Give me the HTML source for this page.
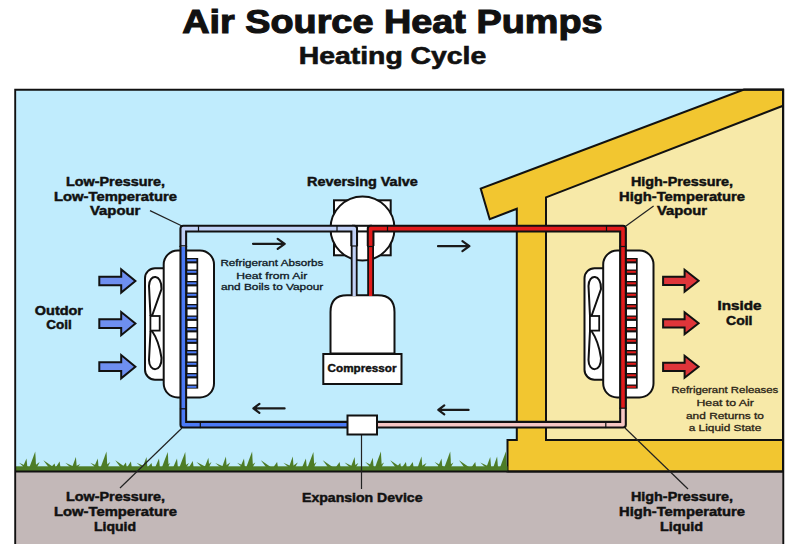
<!DOCTYPE html>
<html><head><meta charset="utf-8"><style>html,body{margin:0;padding:0;background:#fff;}svg{display:block;}</style></head>
<body><svg width="800" height="544" viewBox="0 0 800 544">
<rect x="0" y="0" width="800" height="544" fill="#fff"/>
<rect x="15" y="89.5" width="768" height="382" fill="#c0ecfd"/>
<rect x="15" y="471.6" width="768" height="80" fill="#c3b8b8"/>
<polygon points="744,89.5 783,89.5 783,471.6 507.5,471.6 507.5,440 516.8,440 516.8,208.8 489.7,219.2 480.7,188.6" fill="#f2c630" stroke="#111" stroke-width="2" stroke-linejoin="miter"/>
<polygon points="546,197.4 783,105.8 783,440 546,440" fill="#f7e9a8" stroke="#111" stroke-width="2"/>
<rect x="15" y="466.3" width="492.5" height="5.5" fill="#4d7c27"/><polygon points="24.40,467.5 19.00,462.75 29.60,467.5" fill="#4d7c27"/><polygon points="22.60,467.5 26.50,458.40 27.40,467.5" fill="#4d7c27"/><polygon points="29.35,467.5 35.25,451.50 36.15,467.5" fill="#4d7c27"/><polygon points="32.30,467.5 39.60,462.10 36.90,467.5" fill="#4d7c27"/><polygon points="48.80,467.5 43.40,460.25 54.00,467.5" fill="#4d7c27"/><polygon points="50.70,467.5 54.60,463.40 55.50,467.5" fill="#4d7c27"/><polygon points="55.70,467.5 59.60,461.50 60.50,467.5" fill="#4d7c27"/><polygon points="70.65,467.5 65.25,462.75 75.85,467.5" fill="#4d7c27"/><polygon points="72.00,467.5 75.90,457.10 76.80,467.5" fill="#4d7c27"/><polygon points="72.95,467.5 80.25,464.00 77.55,467.5" fill="#4d7c27"/><polygon points="95.65,467.5 90.25,462.75 100.85,467.5" fill="#4d7c27"/><polygon points="93.85,467.5 97.75,458.40 98.65,467.5" fill="#4d7c27"/><polygon points="100.60,467.5 106.50,451.50 107.40,467.5" fill="#4d7c27"/><polygon points="102.95,467.5 110.25,462.00 107.55,467.5" fill="#4d7c27"/><polygon points="120.65,467.5 115.25,460.25 125.85,467.5" fill="#4d7c27"/><polygon points="122.00,467.5 125.90,462.50 126.80,467.5" fill="#4d7c27"/><polygon points="127.00,467.5 130.90,461.50 131.80,467.5" fill="#4d7c27"/><polygon points="141.90,467.5 136.50,462.75 147.10,467.5" fill="#4d7c27"/><polygon points="142.60,467.5 146.50,457.00 147.40,467.5" fill="#4d7c27"/><polygon points="147.60,467.5 151.50,463.00 152.40,467.5" fill="#4d7c27"/><polygon points="155.10,467.5 159.00,458.40 159.90,467.5" fill="#4d7c27"/><polygon points="161.85,467.5 167.75,452.10 168.65,467.5" fill="#4d7c27"/><polygon points="162.95,467.5 170.25,463.00 167.55,467.5" fill="#4d7c27"/><polygon points="173.10,467.5 177.00,458.40 177.90,467.5" fill="#4d7c27"/><polygon points="179.35,467.5 185.25,452.00 186.15,467.5" fill="#4d7c27"/><polygon points="181.70,467.5 189.00,463.00 186.30,467.5" fill="#4d7c27"/><polygon points="188.85,467.5 192.75,460.90 193.65,467.5" fill="#4d7c27"/><polygon points="201.90,467.5 196.50,462.00 207.10,467.5" fill="#4d7c27"/><polygon points="204.50,467.5 208.40,457.75 209.30,467.5" fill="#4d7c27"/><polygon points="204.20,467.5 211.50,462.00 208.80,467.5" fill="#4d7c27"/><polygon points="220.65,467.5 215.25,463.00 225.85,467.5" fill="#4d7c27"/><polygon points="222.00,467.5 225.90,456.50 226.80,467.5" fill="#4d7c27"/><polygon points="222.95,467.5 230.25,462.50 227.55,467.5" fill="#4d7c27"/><polygon points="242.50,467.5 237.10,462.75 247.70,467.5" fill="#4d7c27"/><polygon points="240.10,467.5 244.00,458.40 244.90,467.5" fill="#4d7c27"/><polygon points="246.20,467.5 252.10,451.50 253.00,467.5" fill="#4d7c27"/><polygon points="247.95,467.5 255.25,462.50 252.55,467.5" fill="#4d7c27"/><polygon points="266.30,467.5 260.90,460.25 271.50,467.5" fill="#4d7c27"/><polygon points="273.20,467.5 277.10,462.00 278.00,467.5" fill="#4d7c27"/><polygon points="288.80,467.5 283.40,462.75 294.00,467.5" fill="#4d7c27"/><polygon points="288.85,467.5 292.75,456.50 293.65,467.5" fill="#4d7c27"/><polygon points="290.45,467.5 297.75,462.50 295.05,467.5" fill="#4d7c27"/><polygon points="302.00,467.5 305.90,458.40 306.80,467.5" fill="#4d7c27"/><polygon points="307.50,467.5 313.40,452.10 314.30,467.5" fill="#4d7c27"/><polygon points="309.20,467.5 316.50,462.00 313.80,467.5" fill="#4d7c27"/><polygon points="328.15,467.5 322.75,460.25 333.35,467.5" fill="#4d7c27"/><polygon points="335.70,467.5 339.60,462.00 340.50,467.5" fill="#4d7c27"/><polygon points="350.00,467.5 344.60,462.50 355.20,467.5" fill="#4d7c27"/><polygon points="350.70,467.5 354.60,457.10 355.50,467.5" fill="#4d7c27"/><polygon points="351.10,467.5 358.40,463.00 355.70,467.5" fill="#4d7c27"/><polygon points="370.65,467.5 365.25,462.00 375.85,467.5" fill="#4d7c27"/><polygon points="368.85,467.5 372.75,457.75 373.65,467.5" fill="#4d7c27"/><polygon points="375.00,467.5 380.90,451.50 381.80,467.5" fill="#4d7c27"/><polygon points="376.70,467.5 384.00,462.50 381.30,467.5" fill="#4d7c27"/><polygon points="395.65,467.5 390.25,460.25 400.85,467.5" fill="#4d7c27"/><polygon points="396.35,467.5 400.25,463.00 401.15,467.5" fill="#4d7c27"/><polygon points="402.00,467.5 405.90,462.00 406.80,467.5" fill="#4d7c27"/><polygon points="408.85,467.5 412.75,462.00 413.65,467.5" fill="#4d7c27"/><polygon points="417.60,467.5 421.50,456.50 422.40,467.5" fill="#4d7c27"/><polygon points="419.20,467.5 426.50,463.00 423.80,467.5" fill="#4d7c27"/><polygon points="440.00,467.5 434.60,462.00 445.20,467.5" fill="#4d7c27"/><polygon points="437.60,467.5 441.50,458.40 442.40,467.5" fill="#4d7c27"/><polygon points="444.35,467.5 450.25,451.50 451.15,467.5" fill="#4d7c27"/><polygon points="446.10,467.5 453.40,462.50 450.70,467.5" fill="#4d7c27"/><polygon points="464.40,467.5 459.00,460.25 469.60,467.5" fill="#4d7c27"/><polygon points="471.35,467.5 475.25,462.00 476.15,467.5" fill="#4d7c27"/><polygon points="485.65,467.5 480.25,462.50 490.85,467.5" fill="#4d7c27"/><polygon points="486.35,467.5 490.25,457.10 491.15,467.5" fill="#4d7c27"/><polygon points="493.20,467.5 497.10,456.50 498.00,467.5" fill="#4d7c27"/><polygon points="500.00,467.5 505.90,451.50 506.80,467.5" fill="#4d7c27"/>
<line x1="15" y1="471.6" x2="507.5" y2="471.6" stroke="#111" stroke-width="2"/>
<line x1="507.5" y1="471.6" x2="783" y2="471.6" stroke="#111" stroke-width="2"/>
<path d="M15.2,551 V89.7 H783.3 V551" fill="none" stroke="#111" stroke-width="1.9"/>
<g stroke="#222" stroke-width="1.2" fill="none"><line x1="150" y1="210.6" x2="182" y2="226"/><line x1="653.6" y1="206" x2="626" y2="226"/><line x1="182" y1="428" x2="120" y2="488"/><line x1="625" y1="428" x2="688" y2="489"/><line x1="361.5" y1="434" x2="361.5" y2="489"/></g>
<rect x="145" y="268.2" width="30" height="111.5" rx="10" fill="#fff" stroke="#111" stroke-width="2"/><path d="M150.5,316 L149,286 C149,273.5 162,273.5 161.5,289 L152,316 M150.5,331 L149,360 C149,372.5 162,372.5 161.5,358 Q159,341 152,331" fill="none" stroke="#111" stroke-width="2"/><rect x="150.4" y="316" width="9.3" height="14.6" fill="#fff" stroke="#111" stroke-width="1.8"/><rect x="163.7" y="250.5" width="50.3" height="147" rx="14" fill="#fff" stroke="#111" stroke-width="2"/><rect x="186" y="258" width="12.2" height="130.6" fill="#111"/><rect x="184.6" y="259.30" width="11.8" height="2" fill="#4b7af5"/><rect x="187.5" y="263.40" width="9.0" height="6.1" fill="#fff"/><rect x="184.6" y="270.80" width="11.8" height="2" fill="#4b7af5"/><rect x="187.5" y="274.90" width="9.0" height="6.1" fill="#fff"/><rect x="184.6" y="282.30" width="11.8" height="2" fill="#4b7af5"/><rect x="187.5" y="286.40" width="9.0" height="6.1" fill="#fff"/><rect x="184.6" y="293.80" width="11.8" height="2" fill="#4b7af5"/><rect x="187.5" y="297.90" width="9.0" height="6.1" fill="#fff"/><rect x="184.6" y="305.30" width="11.8" height="2" fill="#4b7af5"/><rect x="187.5" y="309.40" width="9.0" height="6.1" fill="#fff"/><rect x="184.6" y="316.80" width="11.8" height="2" fill="#4b7af5"/><rect x="187.5" y="320.90" width="9.0" height="6.1" fill="#fff"/><rect x="184.6" y="328.30" width="11.8" height="2" fill="#4b7af5"/><rect x="187.5" y="332.40" width="9.0" height="6.1" fill="#fff"/><rect x="184.6" y="339.80" width="11.8" height="2" fill="#4b7af5"/><rect x="187.5" y="343.90" width="9.0" height="6.1" fill="#fff"/><rect x="184.6" y="351.30" width="11.8" height="2" fill="#4b7af5"/><rect x="187.5" y="355.40" width="9.0" height="6.1" fill="#fff"/><rect x="184.6" y="362.80" width="11.8" height="2" fill="#4b7af5"/><rect x="187.5" y="366.90" width="9.0" height="6.1" fill="#fff"/><rect x="184.6" y="374.30" width="11.8" height="2" fill="#4b7af5"/><rect x="187.5" y="378.40" width="9.0" height="6.1" fill="#fff"/><rect x="184.6" y="385.80" width="11.8" height="2" fill="#4b7af5"/>
<rect x="584.5" y="268.2" width="30" height="111.5" rx="10" fill="#fff" stroke="#111" stroke-width="2"/><path d="M590.0,316 L588.5,286 C588.5,273.5 601.5,273.5 601.0,289 L591.5,316 M590.0,331 L588.5,360 C588.5,372.5 601.5,372.5 601.0,358 Q598.5,341 591.5,331" fill="none" stroke="#111" stroke-width="2"/><rect x="589.9" y="316" width="9.3" height="14.6" fill="#fff" stroke="#111" stroke-width="1.8"/><rect x="603.2" y="250.5" width="50.3" height="147" rx="14" fill="#fff" stroke="#111" stroke-width="2"/><rect x="625.5" y="258" width="12.2" height="130.6" fill="#111"/><rect x="624.1" y="259.30" width="11.8" height="2" fill="#e31b1b"/><rect x="627.0" y="263.40" width="9.0" height="6.1" fill="#fff"/><rect x="624.1" y="270.80" width="11.8" height="2" fill="#e31b1b"/><rect x="627.0" y="274.90" width="9.0" height="6.1" fill="#fff"/><rect x="624.1" y="282.30" width="11.8" height="2" fill="#e31b1b"/><rect x="627.0" y="286.40" width="9.0" height="6.1" fill="#fff"/><rect x="624.1" y="293.80" width="11.8" height="2" fill="#e31b1b"/><rect x="627.0" y="297.90" width="9.0" height="6.1" fill="#fff"/><rect x="624.1" y="305.30" width="11.8" height="2" fill="#e31b1b"/><rect x="627.0" y="309.40" width="9.0" height="6.1" fill="#fff"/><rect x="624.1" y="316.80" width="11.8" height="2" fill="#e31b1b"/><rect x="627.0" y="320.90" width="9.0" height="6.1" fill="#fff"/><rect x="624.1" y="328.30" width="11.8" height="2" fill="#e31b1b"/><rect x="627.0" y="332.40" width="9.0" height="6.1" fill="#fff"/><rect x="624.1" y="339.80" width="11.8" height="2" fill="#e31b1b"/><rect x="627.0" y="343.90" width="9.0" height="6.1" fill="#fff"/><rect x="624.1" y="351.30" width="11.8" height="2" fill="#e31b1b"/><rect x="627.0" y="355.40" width="9.0" height="6.1" fill="#fff"/><rect x="624.1" y="362.80" width="11.8" height="2" fill="#e31b1b"/><rect x="627.0" y="366.90" width="9.0" height="6.1" fill="#fff"/><rect x="624.1" y="374.30" width="11.8" height="2" fill="#e31b1b"/><rect x="627.0" y="378.40" width="9.0" height="6.1" fill="#fff"/><rect x="624.1" y="385.80" width="11.8" height="2" fill="#e31b1b"/>
<rect x="334" y="200.3" width="56.7" height="55" fill="#fff" stroke="#111" stroke-width="2"/>
<circle cx="362.5" cy="228.5" r="32" fill="#fff" stroke="#111" stroke-width="2"/>
<path d="M330.5,353.5 V312 Q330.5,295.3 347,295.3 H378 Q394.5,295.3 394.5,312 V353.5 Z" fill="#fff" stroke="#111" stroke-width="2"/>
<rect x="323.3" y="354" width="78.2" height="30" fill="#fff" stroke="#111" stroke-width="2"/>
<path d="M352,228.6 H372" fill="none" stroke="#111" stroke-width="7.7" stroke-linejoin="round"/><path d="M352,228.6 H372" fill="none" stroke="#fff" stroke-width="3.6" stroke-linejoin="round"/>
<path d="M354.2,296 V228.6 H183.3 V247" fill="none" stroke="#111" stroke-width="6.8" stroke-linejoin="round"/><path d="M354.2,296 V228.6 H183.3 V247" fill="none" stroke="#c0d0f6" stroke-width="3.2" stroke-linejoin="round"/>
<path d="M183.3,246 V424.7 H348" fill="none" stroke="#111" stroke-width="7.7" stroke-linejoin="round"/><path d="M183.3,246 V424.7 H348" fill="none" stroke="#4b7af5" stroke-width="3.6" stroke-linejoin="round"/>
<path d="M370.6,296 V228.6 H623 V408.5" fill="none" stroke="#111" stroke-width="6.8" stroke-linejoin="round"/><path d="M370.6,296 V228.6 H623 V408.5" fill="none" stroke="#e31b1b" stroke-width="3.2" stroke-linejoin="round"/>
<path d="M370.6,246 V228.6 H623 V408.5" fill="none" stroke="#111" stroke-width="7.7" stroke-linejoin="round"/><path d="M370.6,246 V228.6 H623 V408.5" fill="none" stroke="#e31b1b" stroke-width="3.6" stroke-linejoin="round"/>
<path d="M354.2,246 V228.6 H183.3 V247" fill="none" stroke="#111" stroke-width="7.7" stroke-linejoin="round"/><path d="M354.2,246 V228.6 H183.3 V247" fill="none" stroke="#c0d0f6" stroke-width="3.6" stroke-linejoin="round"/>
<path d="M623,408 V424.7 H376" fill="none" stroke="#111" stroke-width="7.7" stroke-linejoin="round"/><path d="M623,408 V424.7 H376" fill="none" stroke="#f6c6c4" stroke-width="3.6" stroke-linejoin="round"/>
<rect x="197.9" y="225.2" width="1.2" height="6.8" fill="#111"/><rect x="336.4" y="225.2" width="1.2" height="6.8" fill="#111"/><rect x="386.9" y="225.2" width="1.2" height="6.8" fill="#111"/><rect x="605.9" y="225.2" width="1.2" height="6.8" fill="#111"/><rect x="179.9" y="245.20000000000002" width="6.8" height="1.2" fill="#111"/><rect x="350.8" y="245.4" width="6.8" height="1.2" fill="#111"/><rect x="367.20000000000005" y="245.9" width="6.8" height="1.2" fill="#111"/><rect x="619.6" y="245.9" width="6.8" height="1.2" fill="#111"/><rect x="179.9" y="408.2" width="6.8" height="1.2" fill="#111"/><rect x="199.70000000000002" y="421.3" width="1.2" height="6.8" fill="#111"/><rect x="619.6" y="407.59999999999997" width="6.8" height="1.2" fill="#111"/><rect x="605.1999999999999" y="421.3" width="1.2" height="6.8" fill="#111"/>
<rect x="347.5" y="415.5" width="29.5" height="19" fill="#fff" stroke="#111" stroke-width="2"/>
<path d="M253,243.8 H284.7 M277.7,238.8 L284.7,243.8 L277.7,248.8" fill="none" stroke="#1a1a1a" stroke-width="2.2" stroke-linecap="round" stroke-linejoin="round"/>
<path d="M438,246.2 H469.4 M462.4,241.2 L469.4,246.2 L462.4,251.2" fill="none" stroke="#1a1a1a" stroke-width="2.2" stroke-linecap="round" stroke-linejoin="round"/>
<path d="M284.6,408.4 H253.4 M259.4,403.9 L253.4,408.4 L259.4,412.9" fill="none" stroke="#1a1a1a" stroke-width="2.2" stroke-linecap="round" stroke-linejoin="round"/>
<path d="M468.6,409.9 H438.3 M444.3,405.4 L438.3,409.9 L444.3,414.4" fill="none" stroke="#1a1a1a" stroke-width="2.2" stroke-linecap="round" stroke-linejoin="round"/>
<polygon points="99.30,276.65 121.20,276.65 121.20,269.40 135.40,281.00 121.20,292.60 121.20,285.35 99.30,285.35" fill="#6e8ff0" stroke="#111" stroke-width="2" stroke-linejoin="miter" stroke-miterlimit="10"/>
<polygon points="99.30,319.25 121.20,319.25 121.20,312.00 135.40,323.60 121.20,335.20 121.20,327.95 99.30,327.95" fill="#6e8ff0" stroke="#111" stroke-width="2" stroke-linejoin="miter" stroke-miterlimit="10"/>
<polygon points="99.30,362.35 121.20,362.35 121.20,355.10 135.40,366.70 121.20,378.30 121.20,371.05 99.30,371.05" fill="#6e8ff0" stroke="#111" stroke-width="2" stroke-linejoin="miter" stroke-miterlimit="10"/>
<polygon points="663.10,276.70 684.60,276.70 684.60,269.80 698.60,280.80 684.60,291.80 684.60,284.90 663.10,284.90" fill="#df353a" stroke="#111" stroke-width="2" stroke-linejoin="miter" stroke-miterlimit="10"/>
<polygon points="663.10,319.20 684.60,319.20 684.60,312.30 698.60,323.30 684.60,334.30 684.60,327.40 663.10,327.40" fill="#df353a" stroke="#111" stroke-width="2" stroke-linejoin="miter" stroke-miterlimit="10"/>
<polygon points="663.10,362.70 684.60,362.70 684.60,355.80 698.60,366.80 684.60,377.80 684.60,370.90 663.10,370.90" fill="#df353a" stroke="#111" stroke-width="2" stroke-linejoin="miter" stroke-miterlimit="10"/>
<g font-family="'Liberation Sans', sans-serif"><text x="182.15" y="32.5" textLength="420.45" lengthAdjust="spacingAndGlyphs" font-size="33.5" font-weight="bold" fill="#111" stroke="#111" stroke-width="1.1">Air Source Heat Pumps</text><text x="298.7" y="64.2" textLength="187.6" lengthAdjust="spacingAndGlyphs" font-size="23" font-weight="bold" fill="#111" stroke="#111" stroke-width="0.6">Heating Cycle</text><text x="66.0" y="185.6" textLength="99.0" lengthAdjust="spacingAndGlyphs" font-size="12" font-weight="bold" fill="#111" stroke="#111" stroke-width="0.45">Low-Pressure,</text><text x="54.0" y="201" textLength="123.0" lengthAdjust="spacingAndGlyphs" font-size="12" font-weight="bold" fill="#111" stroke="#111" stroke-width="0.45">Low-Temperature</text><text x="90.0" y="215.4" textLength="50.4" lengthAdjust="spacingAndGlyphs" font-size="12" font-weight="bold" fill="#111" stroke="#111" stroke-width="0.45">Vapour</text><text x="631.0" y="185.6" textLength="102.0" lengthAdjust="spacingAndGlyphs" font-size="12" font-weight="bold" fill="#111" stroke="#111" stroke-width="0.45">High-Pressure,</text><text x="619.0" y="201" textLength="126.0" lengthAdjust="spacingAndGlyphs" font-size="12" font-weight="bold" fill="#111" stroke="#111" stroke-width="0.45">High-Temperature</text><text x="657.0" y="215.4" textLength="50.0" lengthAdjust="spacingAndGlyphs" font-size="12" font-weight="bold" fill="#111" stroke="#111" stroke-width="0.45">Vapour</text><text x="66.0" y="501" textLength="99.0" lengthAdjust="spacingAndGlyphs" font-size="12" font-weight="bold" fill="#111" stroke="#111" stroke-width="0.45">Low-Pressure,</text><text x="54.0" y="516" textLength="123.0" lengthAdjust="spacingAndGlyphs" font-size="12" font-weight="bold" fill="#111" stroke="#111" stroke-width="0.45">Low-Temperature</text><text x="94.0" y="531" textLength="42.0" lengthAdjust="spacingAndGlyphs" font-size="12" font-weight="bold" fill="#111" stroke="#111" stroke-width="0.45">Liquid</text><text x="631.0" y="501" textLength="102.0" lengthAdjust="spacingAndGlyphs" font-size="12" font-weight="bold" fill="#111" stroke="#111" stroke-width="0.45">High-Pressure,</text><text x="619.0" y="516" textLength="126.0" lengthAdjust="spacingAndGlyphs" font-size="12" font-weight="bold" fill="#111" stroke="#111" stroke-width="0.45">High-Temperature</text><text x="660.0" y="531" textLength="43.0" lengthAdjust="spacingAndGlyphs" font-size="12" font-weight="bold" fill="#111" stroke="#111" stroke-width="0.45">Liquid</text><text x="307.0" y="185.7" textLength="110.7" lengthAdjust="spacingAndGlyphs" font-size="12" font-weight="bold" fill="#111" stroke="#111" stroke-width="0.45">Reversing Valve</text><text x="302.0" y="501.5" textLength="120.5" lengthAdjust="spacingAndGlyphs" font-size="12" font-weight="bold" fill="#111" stroke="#111" stroke-width="0.45">Expansion Device</text><text x="34.8" y="314.5" textLength="48.2" lengthAdjust="spacingAndGlyphs" font-size="12" font-weight="bold" fill="#111" stroke="#111" stroke-width="0.45">Outdor</text><text x="46.2" y="328.75" textLength="25.5" lengthAdjust="spacingAndGlyphs" font-size="12" font-weight="bold" fill="#111" stroke="#111" stroke-width="0.45">Coil</text><text x="717.5" y="309.5" textLength="44.0" lengthAdjust="spacingAndGlyphs" font-size="12" font-weight="bold" fill="#111" stroke="#111" stroke-width="0.45">Inside</text><text x="726.0" y="324.5" textLength="26.5" lengthAdjust="spacingAndGlyphs" font-size="12" font-weight="bold" fill="#111" stroke="#111" stroke-width="0.45">Coil</text><text x="327.6" y="371.9" textLength="68.89999999999999" lengthAdjust="spacingAndGlyphs" font-size="10.5" font-weight="bold" fill="#111" stroke="#111" stroke-width="0.4">Compressor</text><text x="220.39999999999998" y="265.7" textLength="103.0" lengthAdjust="spacingAndGlyphs" font-size="9.2" font-weight="normal" fill="#0e1824" stroke="#0e1824" stroke-width="0.3">Refrigerant Absorbs</text><text x="236.29999999999998" y="278.7" textLength="70.89999999999999" lengthAdjust="spacingAndGlyphs" font-size="9.2" font-weight="normal" fill="#0e1824" stroke="#0e1824" stroke-width="0.3">Heat from Air</text><text x="220.89999999999998" y="290.4" textLength="102.39999999999999" lengthAdjust="spacingAndGlyphs" font-size="9.2" font-weight="normal" fill="#0e1824" stroke="#0e1824" stroke-width="0.3">and Boils to Vapour</text><text x="671.4000000000001" y="393.2" textLength="106.89999999999999" lengthAdjust="spacingAndGlyphs" font-size="9.2" font-weight="normal" fill="#2a2416" stroke="#2a2416" stroke-width="0.3">Refrigerant Releases</text><text x="696.4000000000001" y="405.9" textLength="57.5" lengthAdjust="spacingAndGlyphs" font-size="9.2" font-weight="normal" fill="#2a2416" stroke="#2a2416" stroke-width="0.3">Heat to Air</text><text x="686.0" y="418.5" textLength="78.0" lengthAdjust="spacingAndGlyphs" font-size="9.2" font-weight="normal" fill="#2a2416" stroke="#2a2416" stroke-width="0.3">and Returns to</text><text x="688.7" y="431" textLength="72.6" lengthAdjust="spacingAndGlyphs" font-size="9.2" font-weight="normal" fill="#2a2416" stroke="#2a2416" stroke-width="0.3">a Liquid State</text></g>
</svg></body></html>
